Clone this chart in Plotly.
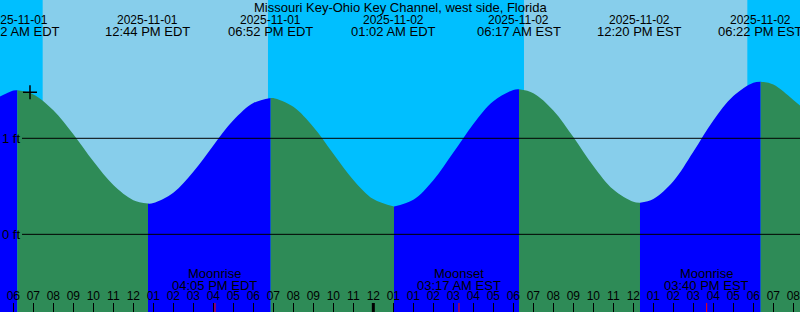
import plotly.graph_objects as go

# Time axis: elapsed hours since 2025-11-01 00:00 EDT (DST ends 2025-11-02 02:00 EDT)
title_text = "Missouri Key-Ohio Key Channel, west side, Florida"

# Tide extremes (high / low)
extreme_t = [6.20, 12.733, 18.867, 25.033, 31.283, 37.333, 43.367]
extreme_h = [1.50, 0.32, 1.42, 0.29, 1.51, 0.33, 1.59]
extreme_date = ["2025-11-01", "2025-11-01", "2025-11-01", "2025-11-02",
                "2025-11-02", "2025-11-02", "2025-11-02"]
extreme_time = ["06:12 AM EDT", "12:44 PM EDT", "06:52 PM EDT", "01:02 AM EDT",
                "06:17 AM EST", "12:20 PM EST", "06:22 PM EST"]

# Hourly tide heights (ft)
sample_t = [5, 6, 7, 8, 9, 10, 11, 12, 13, 14, 15, 16, 17, 18, 19, 20, 21, 22, 23, 24,
            26, 27, 28, 29, 30, 31, 32, 33, 34, 35, 36, 37, 38, 39, 40, 41, 42, 43,
            44, 45, 46]
sample_h = [1.40, 1.497, 1.457, 1.292, 1.042, 0.760, 0.513, 0.356, 0.325, 0.432, 0.651,
            0.926, 1.187, 1.367, 1.419, 1.328, 1.118, 0.840, 0.567, 0.367,
            0.360, 0.564, 0.851, 1.150, 1.387, 1.504, 1.470, 1.291, 1.014, 0.712,
            0.466, 0.339, 0.368, 0.553, 0.860, 1.185, 1.440, 1.579, 1.56, 1.40, 1.22]

# Daylight intervals (sunrise, sunset)
day_start = [7.467, 31.533]
day_end = [18.733, 42.700]

# Moon events
moon_t = [16.083, 28.283, 40.667]
moon_event = ["Moonrise", "Moonset", "Moonrise"]
moon_time = ["04:05 PM EDT", "03:17 AM EST", "03:40 PM EST"]

# Hour ticks
hour_ticks = list(range(6, 46))
hour_labels = ["06", "07", "08", "09", "10", "11", "12", "01", "02", "03", "04", "05",
               "06", "07", "08", "09", "10", "11", "12", "01", "01", "02", "03", "04",
               "05", "06", "07", "08", "09", "10", "11", "12", "01", "02", "03", "04",
               "05", "06", "07", "08"]
midnight_t = [24]

# Current-time marker
now_t = [6.833]
now_h = [1.479]

height_levels = [0, 1]
height_labels = ["0 ft", "1 ft"]

X0, X1 = 5.3333, 45.3333
Y0, Y1 = -0.809, 2.4406
FONT = "Liberation Sans, Arial, sans-serif"
FLOOD = "#0000FF"
EBB = "#2E8B57"
NIGHT = "#00BFFF"
DAY = "#87CEEB"

pts = sorted(list(zip(sample_t, sample_h)) + list(zip(extreme_t, extreme_h)))
bounds = [sample_t[0]] + extreme_t + [sample_t[-1]]

fig = go.Figure()
for a, b in zip(bounds[:-1], bounds[1:]):
    seg = [(t, h) for t, h in pts if a - 1e-9 <= t <= b + 1e-9]
    xs = [p[0] for p in seg]
    ys = [p[1] for p in seg]
    color = FLOOD if ys[-1] > ys[0] else EBB
    fig.add_trace(go.Scatter(x=[xs[0], xs[-1]], y=[Y0 - 1, Y0 - 1], mode="lines",
                             line=dict(width=0, color=color), hoverinfo="skip"))
    fig.add_trace(go.Scatter(x=xs, y=ys, mode="lines", fill="tonexty", fillcolor=color,
                             line=dict(width=0, color=color, shape="spline"),
                             hoverinfo="skip"))

# hour labels
fig.add_trace(go.Scatter(x=hour_ticks, y=[-0.653] * len(hour_ticks), mode="text",
                         text=hour_labels, textposition="middle center",
                         textfont=dict(family=FONT, size=12, color="black"),
                         hoverinfo="skip"))

# now marker
fig.add_trace(go.Scatter(x=now_t, y=now_h, mode="markers",
                         marker=dict(symbol="cross-thin", size=10,
                                     line=dict(width=1.5, color="black")),
                         hoverinfo="skip"))

shapes = []
for s, e in zip(day_start, day_end):
    shapes.append(dict(type="rect", xref="x", yref="paper", x0=s, x1=e, y0=0, y1=1,
                       fillcolor=DAY, line=dict(width=0), layer="below"))
for lv in height_levels:
    shapes.append(dict(type="line", xref="paper", yref="y", x0=22 / 800, x1=1,
                       y0=lv, y1=lv, line=dict(color="black", width=1), layer="above"))
for t in midnight_t:
    shapes.append(dict(type="line", xref="x", yref="paper", x0=t, x1=t, y0=0,
                       y1=9 / 312, line=dict(color="black", width=3), layer="above"))
for t in moon_t:
    shapes.append(dict(type="line", xref="x", yref="paper", x0=t, x1=t, y0=0,
                       y1=9 / 312, line=dict(color="red", width=1), layer="above"))

def py(px):
    return 1 - px / 312

ann = []
f13 = dict(family=FONT, size=13, color="black")
f12 = dict(family=FONT, size=12, color="black")
ann.append(dict(text=title_text, xref="paper", yref="paper", x=0.5, y=py(7.5),
                xanchor="center", yanchor="middle", showarrow=False, font=f13))
for t, d, tm in zip(extreme_t, extreme_date, extreme_time):
    ann.append(dict(text=d, xref="x", yref="paper", x=t, y=py(19.5), xanchor="center",
                    yanchor="middle", showarrow=False, font=f12))
    ann.append(dict(text=tm, xref="x", yref="paper", x=t, y=py(31.5), xanchor="center",
                    yanchor="middle", showarrow=False, font=f13))
for t, ev, tm in zip(moon_t, moon_event, moon_time):
    ann.append(dict(text=ev, xref="x", yref="paper", x=t, y=py(273.5), xanchor="center",
                    yanchor="middle", showarrow=False, font=f13))
    ann.append(dict(text=tm, xref="x", yref="paper", x=t, y=py(285.5), xanchor="center",
                    yanchor="middle", showarrow=False, font=f13))
for lv, lb in zip(height_levels, height_labels):
    ann.append(dict(text=lb, xref="paper", yref="y", x=0, y=lv, xanchor="left",
                    yanchor="middle", showarrow=False, font=f13))

fig.update_layout(
    width=800, height=312, margin=dict(l=0, r=0, t=0, b=0),
    paper_bgcolor=NIGHT, plot_bgcolor=NIGHT, showlegend=False,
    shapes=shapes, annotations=ann,
    xaxis=dict(range=[X0, X1], tickvals=hour_ticks, ticks="inside", ticklen=9,
               tickcolor="black", tickwidth=1, showticklabels=False, showgrid=False,
               zeroline=False, showline=False, fixedrange=True),
    yaxis=dict(range=[Y0, Y1], visible=False, fixedrange=True),
)

fig.write_html("out.html", config={"displayModeBar": False})
